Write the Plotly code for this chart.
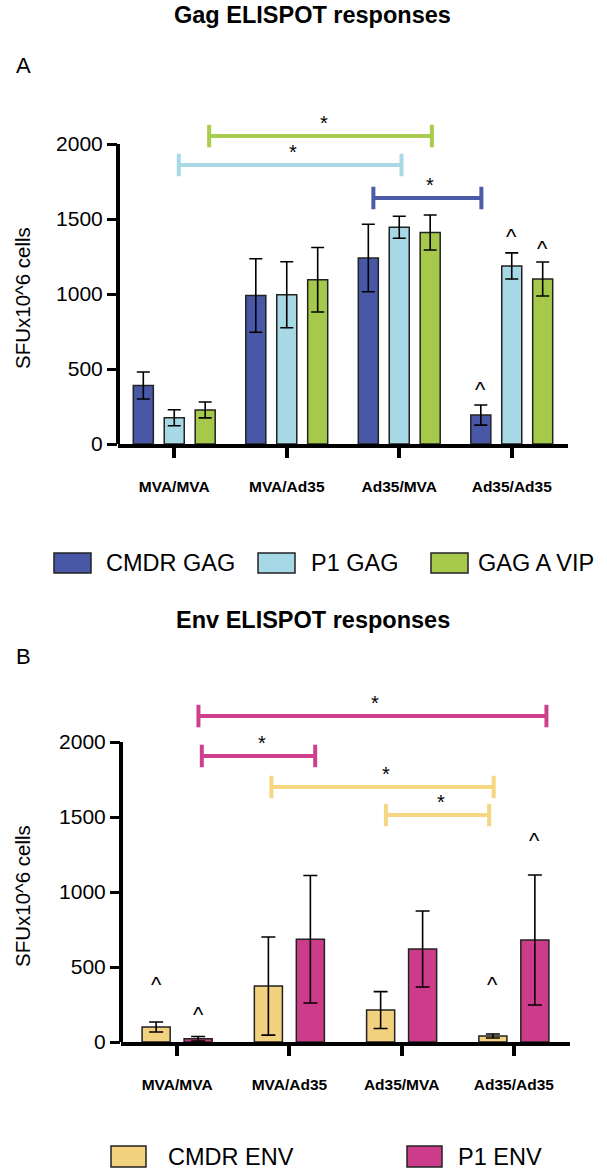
import plotly.graph_objects as go

# ---------------- data ----------------
CATEGORIES = ["MVA/MVA", "MVA/Ad35", "Ad35/MVA", "Ad35/Ad35"]
Y_TICKS = [0, 500, 1000, 1500, 2000]

GAG_NAMES = ["CMDR GAG", "P1 GAG", "GAG A VIP"]
cmdr_gag = [390, 990, 1240, 193]
cmdr_gag_err = [90, 245, 225, 67]
p1_gag = [175, 995, 1445, 1187]
p1_gag_err = [53, 220, 73, 87]
vip_gag = [227, 1095, 1410, 1100]
vip_gag_err = [53, 215, 117, 113]

ENV_NAMES = ["CMDR ENV", "P1 ENV"]
cmdr_env = [100, 373, 213, 40]
cmdr_env_err = [33, 327, 123, 13]
p1_env = [22, 685, 620, 680]
p1_env_err = [15, 425, 253, 433]

# significance brackets (series index for colour, start, end in category units, level)
gag_br_series = [2, 1, 0]
gag_br_x0 = [0.31, 0.04, 1.77]
gag_br_x1 = [2.29, 2.02, 2.73]
gag_br_y = [2053, 1860, 1640]

env_br_series = [1, 1, 0, 0]
env_br_x0 = [0.19, 0.22, 0.84, 1.86]
env_br_x1 = [3.29, 1.23, 2.82, 2.78]
env_br_y = [2173, 1907, 1700, 1513]

# "^" markers (series index, category index, level)
gag_caret_series = [0, 1, 2]
gag_caret_cat = [3, 3, 3]
gag_caret_y = [393, 1407, 1327]

env_caret_series = [0, 1, 0, 1]
env_caret_cat = [0, 0, 3, 3]
env_caret_y = [413, 213, 413, 1367]

# ---------------- styles ----------------
W, H = 607, 1173
FONT = "Liberation Sans, Arial, Helvetica, sans-serif"
GAG_COLORS = ["#4858A6", "#A7D8E5", "#A7C94B"]
GAG_BR_COLORS = ["#4A5BA8", "#A9D9E6", "#A9CB4E"]
ENV_COLORS = ["#F3D27F", "#CD3C8A"]
ENV_BR_COLORS = ["#F5D681", "#CF408C"]
OUTLINE = "#222222"

GAG_CENTERS = [-0.275, 0.0, 0.275]
GAG_WIDTH = 0.178
ENV_CENTERS = [-0.187, 0.187]
ENV_WIDTH = 0.25

CAP_HALF = 75  # bracket end-cap half height (data units)


def px(x):
    return x / W


def py(y):
    return 1 - y / H


fig = go.Figure()

gag_vals = [cmdr_gag, p1_gag, vip_gag]
gag_errs = [cmdr_gag_err, p1_gag_err, vip_gag_err]
for i, name in enumerate(GAG_NAMES):
    fig.add_trace(go.Bar(
        x=CATEGORIES, y=gag_vals[i], name=name,
        width=GAG_WIDTH, offset=GAG_CENTERS[i] - GAG_WIDTH / 2,
        marker=dict(color=GAG_COLORS[i], line=dict(color=OUTLINE, width=1.5)),
        error_y=dict(type="data", array=gag_errs[i], color="black",
                     thickness=1.6, width=6.5),
        xaxis="x", yaxis="y", showlegend=False,
    ))

env_vals = [cmdr_env, p1_env]
env_errs = [cmdr_env_err, p1_env_err]
for i, name in enumerate(ENV_NAMES):
    fig.add_trace(go.Bar(
        x=CATEGORIES, y=env_vals[i], name=name,
        width=ENV_WIDTH, offset=ENV_CENTERS[i] - ENV_WIDTH / 2,
        marker=dict(color=ENV_COLORS[i], line=dict(color=OUTLINE, width=1.5)),
        error_y=dict(type="data", array=env_errs[i], color="black",
                     thickness=1.6, width=7),
        xaxis="x2", yaxis="y2", showlegend=False,
    ))

shapes = []
annotations = []


def add_brackets(xref, yref, series, x0s, x1s, ys, colors):
    for s, a, b, y in zip(series, x0s, x1s, ys):
        c = colors[s]
        for (xa, ya, xb, yb) in [(a, y, b, y), (a, y - CAP_HALF, a, y + CAP_HALF),
                                 (b, y - CAP_HALF, b, y + CAP_HALF)]:
            shapes.append(dict(type="line", xref=xref, yref=yref, x0=xa, y0=ya,
                               x1=xb, y1=yb, line=dict(color=c, width=4),
                               layer="above"))
        annotations.append(dict(text="*", x=(a + b) / 2, y=y, xref=xref, yref=yref,
                                showarrow=False, xanchor="center", yanchor="middle",
                                xshift=3, yshift=17 - 4,
                                font=dict(family=FONT, size=20, color="black")))


add_brackets("x", "y", gag_br_series, gag_br_x0, gag_br_x1, gag_br_y, GAG_BR_COLORS)
add_brackets("x2", "y2", env_br_series, env_br_x0, env_br_x1, env_br_y, ENV_BR_COLORS)


def add_carets(xref, yref, series, cats, ys, centers):
    for s, c, y in zip(series, cats, ys):
        annotations.append(dict(text="^", x=c + centers[s], y=y, xref=xref, yref=yref,
                                showarrow=False, xanchor="center", yanchor="middle",
                                yshift=-4,
                                font=dict(family=FONT, size=22, color="black")))


add_carets("x", "y", gag_caret_series, gag_caret_cat, gag_caret_y, GAG_CENTERS)
add_carets("x2", "y2", env_caret_series, env_caret_cat, env_caret_y, ENV_CENTERS)

# y axis lines limited to 0..2000
for xr, yr in [("x domain", "y"), ("x2 domain", "y2")]:
    shapes.append(dict(type="line", xref=xr, yref=yr, x0=0, x1=0, y0=0, y1=Y_TICKS[-1],
                       line=dict(color="black", width=4)))

# titles, panel letters, axis titles
annotations += [
    dict(text="<b>Gag ELISPOT responses</b>", x=px(312), y=py(15), xref="paper", yref="paper",
         showarrow=False, xanchor="center", yanchor="middle",
         font=dict(family=FONT, size=23.5, color="black")),
    dict(text="<b>Env ELISPOT responses</b>", x=px(313), y=py(620), xref="paper", yref="paper",
         showarrow=False, xanchor="center", yanchor="middle",
         font=dict(family=FONT, size=23.5, color="black")),
    dict(text="A", x=px(24), y=py(66), xref="paper", yref="paper", showarrow=False,
         xanchor="center", yanchor="middle", font=dict(family=FONT, size=22, color="black")),
    dict(text="B", x=px(24), y=py(656), xref="paper", yref="paper", showarrow=False,
         xanchor="center", yanchor="middle", font=dict(family=FONT, size=22, color="black")),
    dict(text="SFUx10^6 cells", x=px(22), y=py(298), xref="paper", yref="paper",
         showarrow=False, textangle=-90, xanchor="center", yanchor="middle",
         font=dict(family=FONT, size=20.5, color="black")),
    dict(text="SFUx10^6 cells", x=px(22), y=py(896), xref="paper", yref="paper",
         showarrow=False, textangle=-90, xanchor="center", yanchor="middle",
         font=dict(family=FONT, size=20.5, color="black")),
]

# custom legends
gag_leg_box_x = [54, 258, 431]
gag_leg_text_x = [105, 310, 477]
for i, name in enumerate(GAG_NAMES):
    shapes.append(dict(type="rect", xref="paper", yref="paper",
                       x0=px(gag_leg_box_x[i]), x1=px(gag_leg_box_x[i] + 37),
                       y0=py(573), y1=py(553), fillcolor=GAG_COLORS[i],
                       line=dict(color=OUTLINE, width=1.5)))
    annotations.append(dict(text=name, x=px(gag_leg_text_x[i]), y=py(563),
                            xref="paper", yref="paper", showarrow=False,
                            xanchor="left", yanchor="middle", borderpad=0,
                            font=dict(family=FONT, size=23.5, color="black")))

env_leg_box_x = [111, 407]
env_leg_text_x = [167, 457]
for i, name in enumerate(ENV_NAMES):
    shapes.append(dict(type="rect", xref="paper", yref="paper",
                       x0=px(env_leg_box_x[i]), x1=px(env_leg_box_x[i] + 35),
                       y0=py(1167), y1=py(1146), fillcolor=ENV_COLORS[i],
                       line=dict(color=OUTLINE, width=1.5)))
    annotations.append(dict(text=name, x=px(env_leg_text_x[i]), y=py(1157),
                            xref="paper", yref="paper", showarrow=False,
                            xanchor="left", yanchor="middle", borderpad=0,
                            font=dict(family=FONT, size=23.5, color="black")))

xaxis_common = dict(
    type="category", range=[-0.5, 3.5], showline=True, linewidth=4, linecolor="black",
    ticks="outside", ticklen=10, tickwidth=3.5, tickcolor="black", showgrid=False,
    zeroline=False, tickfont=dict(family=FONT, size=15.5, color="black"),
    ticklabelstandoff=15, fixedrange=True, automargin=False,
)
yaxis_common = dict(
    range=[0, 2300], tickmode="array", tickvals=Y_TICKS, ticktext=[str(v) for v in Y_TICKS],
    showline=False, ticks="outside", ticklen=10, tickwidth=3, tickcolor="black",
    showgrid=False, zeroline=False, tickfont=dict(family=FONT, size=21, color="black"),
    fixedrange=True, automargin=False,
)

fig.update_layout(
    width=W, height=H, margin=dict(l=0, r=0, t=0, b=0),
    paper_bgcolor="white", plot_bgcolor="white", barmode="overlay",
    xaxis=dict(domain=[px(118), px(568)], anchor="y",
               tickvals=CATEGORIES, ticktext=[f"<b>{c}</b>" for c in CATEGORIES],
               **xaxis_common),
    yaxis=dict(domain=[py(444), py(99)], anchor="x", **yaxis_common),
    xaxis2=dict(domain=[px(121), px(570)], anchor="y2",
                tickvals=CATEGORIES, ticktext=[f"<b>{c}</b>" for c in CATEGORIES],
                **xaxis_common),
    yaxis2=dict(domain=[py(1042), py(697)], anchor="x2", **yaxis_common),
    shapes=shapes, annotations=annotations, showlegend=False,
    font=dict(family=FONT, color="black"),
)

fig.write_html(
    "out.html",
    config={"displayModeBar": False},
    post_script="document.body.style.margin='0';document.body.style.overflow='hidden';",
)
